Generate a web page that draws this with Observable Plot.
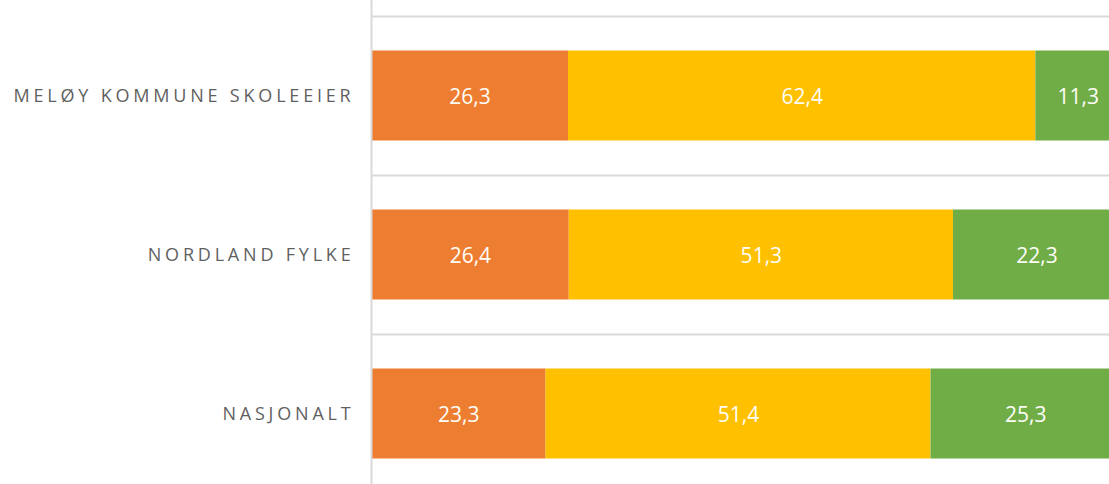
<!DOCTYPE html>
<html>
<head>
<meta charset="utf-8">
<script src="https://cdn.jsdelivr.net/npm/d3@7"></script>
<script src="https://cdn.jsdelivr.net/npm/@observablehq/plot@0.6"></script>
<style>
  html, body { margin: 0; padding: 0; background: #fff; }
  #chart svg { display: block; }
  #chart g[aria-label="y-axis tick label"] text { letter-spacing: 3.8px; }
</style>
</head>
<body>
<div id="chart"></div>
<script>
const categories = ["MELØY KOMMUNE SKOLEEIER", "NORDLAND FYLKE", "NASJONALT"];
const seriesNames = ["A", "B", "C"];
const seriesColors = ["#ED7D31", "#FFC000", "#70AD47"];
const valuesA = [26.3, 26.4, 23.3];
const valuesB = [62.4, 51.3, 51.4];
const valuesC = [11.3, 22.3, 25.3];

const seriesValues = [valuesA, valuesB, valuesC];
const data = [];
categories.forEach((c, i) => {
  seriesNames.forEach((s, j) => {
    data.push({category: c, series: s, value: seriesValues[j][i]});
  });
});

const W = 1109, H = 484;
const yRange = [15.5, 492.5];
const band = (yRange[1] - yRange[0]) / categories.length;
const fmt = d => d.toFixed(1).replace(".", ",");

const chart = Plot.plot({
  width: W,
  height: H,
  marginLeft: 371,
  marginRight: 0,
  marginTop: 0,
  marginBottom: 0,
  style: {fontFamily: "'Open Sans', sans-serif", background: "#fff"},
  x: {domain: [0, 100], range: [371, 1120], axis: null},
  y: {domain: categories, range: yRange, padding: 0, label: null},
  color: {domain: seriesNames, range: seriesColors},
  marks: [
    Plot.ruleY(categories, {y: d => d, dy: -band / 2, stroke: "#d9d9d9", strokeWidth: 2}),
    Plot.barX(data, Plot.stackX({x: "value", y: "category", fill: "series", order: seriesNames, insetTop: 34.5, insetBottom: 34.5})),
    Plot.ruleX([0], {stroke: "#d9d9d9", strokeWidth: 2}),
    Plot.text(data, Plot.stackX({x: "value", y: "category", z: "series", order: seriesNames, text: d => fmt(d.value), fill: "#fdfdf8", fontSize: 21, dy: 1})),
    Plot.axisY({tickSize: 0, tickPadding: 17, fontSize: 18, fill: "#5f5f5f", label: null})
  ]
});
document.getElementById("chart").appendChild(chart);
</script>
</body>
</html>
